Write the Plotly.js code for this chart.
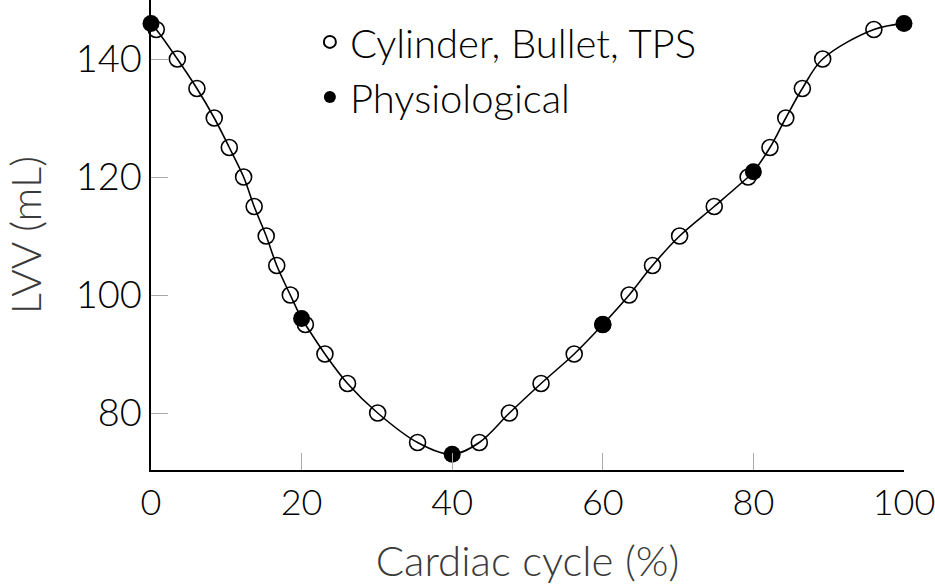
<!DOCTYPE html>
<html>
<head>
<meta charset="utf-8">
<script src="https://cdn.plot.ly/plotly-3.0.1.min.js"></script>
<style>html,body{margin:0;padding:0;background:#fff;}#chart{width:935px;height:585px;}</style>
</head>
<body>
<div id="chart"></div>
<script>
// Open markers: Cylinder, Bullet, TPS
const modelX = [0.7, 3.5, 6.1, 8.4, 10.4, 12.3, 13.7, 15.3, 16.7, 18.5, 20.5, 23.1, 26.1, 30.1, 35.4, 43.6, 47.6, 51.8, 56.2, 60.0, 63.5, 66.6, 70.2, 74.8, 79.3, 82.2, 84.3, 86.5, 89.2, 96.0];
const modelY = [145, 140, 135, 130, 125, 120, 115, 110, 105, 100, 95, 90, 85, 80, 75, 75, 80, 85, 90, 95, 100, 105, 110, 115, 120, 125, 130, 135, 140, 145];
// Filled markers: Physiological
const physX = [0, 20, 40, 60, 80, 100];
const physY = [146, 96, 73, 95, 120.9, 146];
// Tick values
const xTicks = [0, 20, 40, 60, 80, 100];
const yTicks = [80, 100, 120, 140];

// Smooth curve through all measured points (sorted by x)
const merged = modelX.map((x, i) => [x, modelY[i]]).concat(physX.map((x, i) => [x, physY[i]]));
merged.sort((a, b) => a[0] - b[0]);
const curveX = [], curveY = [];
merged.forEach(p => {
  if (curveX.length && Math.abs(curveX[curveX.length - 1] - p[0]) < 0.05) return;
  curveX.push(p[0]); curveY.push(p[1]);
});

const font = 'Lato, "Open Sans", sans-serif';

const traces = [
  {x: curveX, y: curveY, mode: 'lines', line: {color: '#000', width: 1.6, shape: 'spline', smoothing: 1}, showlegend: false, hoverinfo: 'skip', cliponaxis: false},
  {x: modelX, y: modelY, mode: 'markers', name: 'Cylinder, Bullet, TPS',
   marker: {symbol: 'circle-open', size: 16, color: '#000', line: {width: 1.6, color: '#000'}}, cliponaxis: false},
  {x: physX, y: physY, mode: 'markers', name: 'Physiological',
   marker: {symbol: 'circle', size: 17, color: '#000'}, cliponaxis: false}
];

const layout = {
  width: 935, height: 585,
  margin: {l: 151, r: 31, t: 0, b: 115},
  paper_bgcolor: '#fff', plot_bgcolor: '#fff',
  font: {family: font, size: 38, color: '#000', weight: 300},
  showlegend: true,
  legend: {x: 0.211, y: 0.98, xanchor: 'left', yanchor: 'top', bgcolor: 'rgba(0,0,0,0)',
           font: {family: font, size: 40, color: '#000', weight: 300}, tracegroupgap: 0, itemsizing: 'constant'},
  xaxis: {
    range: [0, 100], tickvals: xTicks, ticktext: xTicks.map(String),
    showgrid: false, zeroline: false, showline: true, linecolor: '#000', linewidth: 1.6,
    ticks: 'inside', ticklen: 17, tickwidth: 1, tickcolor: '#aaa', ticklabeloverflow: 'allow',
    tickfont: {family: font, size: 36, color: '#000', weight: 300},
    title: {text: 'Cardiac cycle (%)', font: {family: font, size: 42, color: '#3a3a3a', weight: 300}, standoff: 25},
    automargin: false
  },
  yaxis: {
    range: [70.34, 150], tickvals: yTicks, ticktext: yTicks.map(String),
    showgrid: false, zeroline: false, showline: true, linecolor: '#000', linewidth: 1.6,
    ticks: 'inside', ticklen: 17, tickwidth: 1, tickcolor: '#aaa', ticklabeloverflow: 'allow',
    tickfont: {family: font, size: 38, color: '#000', weight: 300},
    title: {text: 'LVV (mL)', font: {family: font, size: 42, color: '#3a3a3a', weight: 300}, standoff: 30},
    automargin: true
  }
};

Plotly.newPlot('chart', traces, layout, {displayModeBar: false, staticPlot: true});
</script>
</body>
</html>
